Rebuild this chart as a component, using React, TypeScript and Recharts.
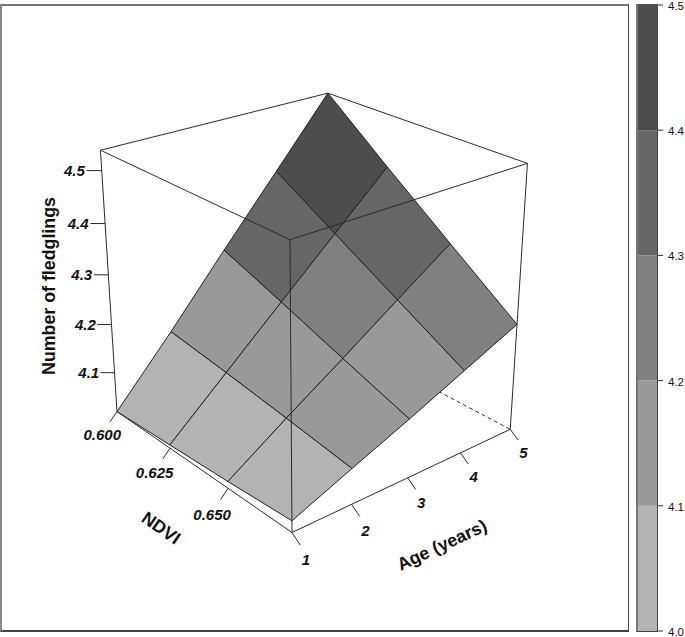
import React from 'react';
import { BarChart, Bar, ScatterChart, Scatter, XAxis, YAxis } from 'recharts';

const ndviValues = [0.6, 0.625, 0.65, 0.675];
const ndviTicks = [0.6, 0.625, 0.65];
const ageValues = [1, 2, 3, 4, 5];
const zTicks = [4.1, 4.2, 4.3, 4.4, 4.5];
const zRange = [4.0172, 4.5378];

// one row per NDVI value, one column per age
const fledglings06 = [4.017, 4.144, 4.277, 4.407, 4.538];
const fledglings0625 = [4.024, 4.127, 4.23, 4.332, 4.434];
const fledglings065 = [4.031, 4.108, 4.182, 4.258, 4.333];
const fledglings0675 = [4.04, 4.088, 4.135, 4.184, 4.233];
const surface = [fledglings06, fledglings0625, fledglings065, fledglings0675];

const levelBreaks = [4.0, 4.1, 4.2, 4.3, 4.4, 4.5];
const levelColors = ['#b3b3b3', '#999999', '#808080', '#666666', '#4d4d4d'];

const W = 685;
const H = 637;
const LINE = '#2b2b2b';
const FONT = '"Liberation Sans", Arial, sans-serif';

// perspective view of the unit cube, a = NDVI (1 at 0.600), b = age, c = fledglings
const project = (a: number, b: number, c: number) => {
  const w = 1 + 0.1513 * a + 0.1269 * b - 0.09 * c;
  return {
    x: (292 - 157.3 * a + 283 * b - 28.1 * c) / w,
    y: (532.5 - 58.7 * a - 48.7 * b - 314.4 * c) / w,
  };
};

const toA = (ndvi: number) => (0.675 - ndvi) / 0.075;
const toB = (age: number) => (age - 1) / 4;
const toC = (z: number) => (z - zRange[0]) / (zRange[1] - zRange[0]);
const grid = (i: number, j: number) => project(toA(ndviValues[i]), toB(ageValues[j]), toC(surface[i][j]));

const cellColor = (value: number) => {
  const k = levelBreaks.findIndex((v, n) => value >= v && value < levelBreaks[n + 1]);
  return levelColors[k < 0 ? levelColors.length - 1 : k];
};

const cells: { points: { x: number; y: number }[]; color: string }[] = [];
for (let i = 0; i < ndviValues.length - 1; i++) {
  for (let j = 0; j < ageValues.length - 1; j++) {
    const mean = (surface[i][j] + surface[i][j + 1] + surface[i + 1][j] + surface[i + 1][j + 1]) / 4;
    cells.push({
      points: [grid(i, j), grid(i, j + 1), grid(i + 1, j + 1), grid(i + 1, j), grid(i, j)],
      color: cellColor(mean),
    });
  }
}

const edge = (p: number[], q: number[]) => [project(p[0], p[1], p[2]), project(q[0], q[1], q[2])];

const hiddenEdges = [
  edge([1, 1, 0], [0, 1, 0]),
  edge([1, 1, 0], [1, 0, 0]),
  edge([1, 1, 0], [1, 1, 1]),
];
const boxEdges = [
  edge([1, 0, 0], [0, 0, 0]),
  edge([0, 0, 0], [0, 1, 0]),
  edge([1, 0, 0], [1, 0, 1]),
  edge([0, 1, 0], [0, 1, 1]),
  edge([0, 0, 0], [0, 0, 1]),
  edge([1, 0, 1], [1, 1, 1]),
  edge([1, 1, 1], [0, 1, 1]),
  edge([1, 0, 1], [0, 0, 1]),
  edge([0, 0, 1], [0, 1, 1]),
];

const tickEdges = [
  ...zTicks.map((z) => edge([1, 0, toC(z)], [1.0325, -0.038, toC(z)])),
  ...ndviTicks.map((n) => edge([toA(n), 0, 0], [toA(n), -0.032, -0.031])),
  ...ageValues.map((y) => edge([0, toB(y), 0], [-0.04, toB(y), -0.026])),
];

const tickLabels = [
  ...zTicks.map((z) => ({ ...project(1.06, -0.07, toC(z)), text: z.toFixed(1) })),
  ...ndviTicks.map((n) => ({ ...project(toA(n), -0.068, -0.072), text: n.toFixed(3) })),
  ...ageValues.map((y) => ({ ...project(-0.068, toB(y), -0.064), text: String(y) })),
];

const axisTitles = [
  { x: 49, y: 286, text: 'Number of fledglings', angle: -90 },
  { x: 161, y: 528, text: 'NDVI', angle: 35 },
  { x: 442, y: 545, text: 'Age (years)', angle: -25 },
];

const barRow = [
  levelBreaks.reduce<Record<string, number>>((row, v, n) => {
    if (n === 0) return row;
    row['band' + n] = n === 1 ? v : v - levelBreaks[n - 1];
    return row;
  }, {}),
];

const noDot = () => null;

const TickLabel = (props: any) => (
  <text
    x={props.cx}
    y={props.cy}
    textAnchor="middle"
    dominantBaseline="central"
    fontFamily={FONT}
    fontSize={15}
    fontWeight="bold"
    fontStyle="italic"
    fill="#111"
  >
    {props.payload.text}
  </text>
);

const AxisTitle = (props: any) => (
  <text
    x={props.cx}
    y={props.cy}
    transform={`rotate(${props.payload.angle} ${props.cx} ${props.cy})`}
    textAnchor="middle"
    dominantBaseline="central"
    fontFamily={FONT}
    fontSize={17.8}
    fontWeight="bold"
    fill="#111"
  >
    {props.payload.text}
  </text>
);

export default function App() {
  return (
    <div style={{ position: 'absolute', left: 0, top: 0, width: W, height: H, overflow: 'hidden', background: '#fff' }}>
      <div
        style={{
          position: 'absolute',
          left: 0,
          top: 4,
          width: 629,
          height: 628,
          boxSizing: 'border-box',
          borderStyle: 'solid',
          borderWidth: '2px 1px 2px 2px',
          borderColor: '#777 #444 #444 #888',
        }}
      />
      <div style={{ position: 'absolute', left: 636, top: 0 }}>
        <BarChart
          width={49}
          height={H}
          data={barRow}
          barCategoryGap={0}
          margin={{ top: 5, right: 0, bottom: 6, left: 0 }}
        >
          <XAxis hide />
          <YAxis
            orientation="right"
            width={27}
            type="number"
            domain={[4, 4.5]}
            allowDataOverflow
            ticks={levelBreaks}
            tickFormatter={(v: number) => v.toFixed(1)}
            axisLine={false}
            tickSize={5}
            tickMargin={5}
            interval={0}
            tick={{ fontFamily: FONT, fontSize: 11.5, fill: '#111', dy: 1 }}
            stroke="#333"
          />
          {levelColors.map((color, n) => (
            <Bar key={color} dataKey={'band' + (n + 1)} stackId="levels" fill={color} isAnimationActive={false} />
          ))}
        </BarChart>
      </div>
      <div
        style={{
          position: 'absolute',
          left: 636,
          top: 4,
          width: 22,
          height: 628,
          boxSizing: 'border-box',
          borderStyle: 'solid',
          borderWidth: '1px 1px 1px 2px',
          borderColor: '#555 #444 #444 #777',
        }}
      />
      <div style={{ position: 'absolute', left: 0, top: 0 }}>
        <ScatterChart width={W} height={H} margin={{ top: 0, right: 0, bottom: 0, left: 0 }}>
          <XAxis type="number" dataKey="x" domain={[0, W]} hide />
          <YAxis type="number" dataKey="y" domain={[0, H]} reversed hide />
          {hiddenEdges.map((points, n) => (
            <Scatter
              key={'hidden' + n}
              data={points}
              shape={noDot}
              line={{ stroke: LINE, strokeWidth: 1, strokeDasharray: '4 3' }}
              isAnimationActive={false}
            />
          ))}
          {cells.map((cell, n) => (
            <Scatter
              key={'cell' + n}
              data={cell.points}
              shape={noDot}
              line={{ fill: cell.color, stroke: '#222', strokeWidth: 1 }}
              isAnimationActive={false}
            />
          ))}
          {[...boxEdges, ...tickEdges].map((points, n) => (
            <Scatter
              key={'edge' + n}
              data={points}
              shape={noDot}
              line={{ stroke: LINE, strokeWidth: 1 }}
              isAnimationActive={false}
            />
          ))}
          <Scatter data={tickLabels} shape={TickLabel} isAnimationActive={false} />
          <Scatter data={axisTitles} shape={AxisTitle} isAnimationActive={false} />
        </ScatterChart>
      </div>
    </div>
  );
}
